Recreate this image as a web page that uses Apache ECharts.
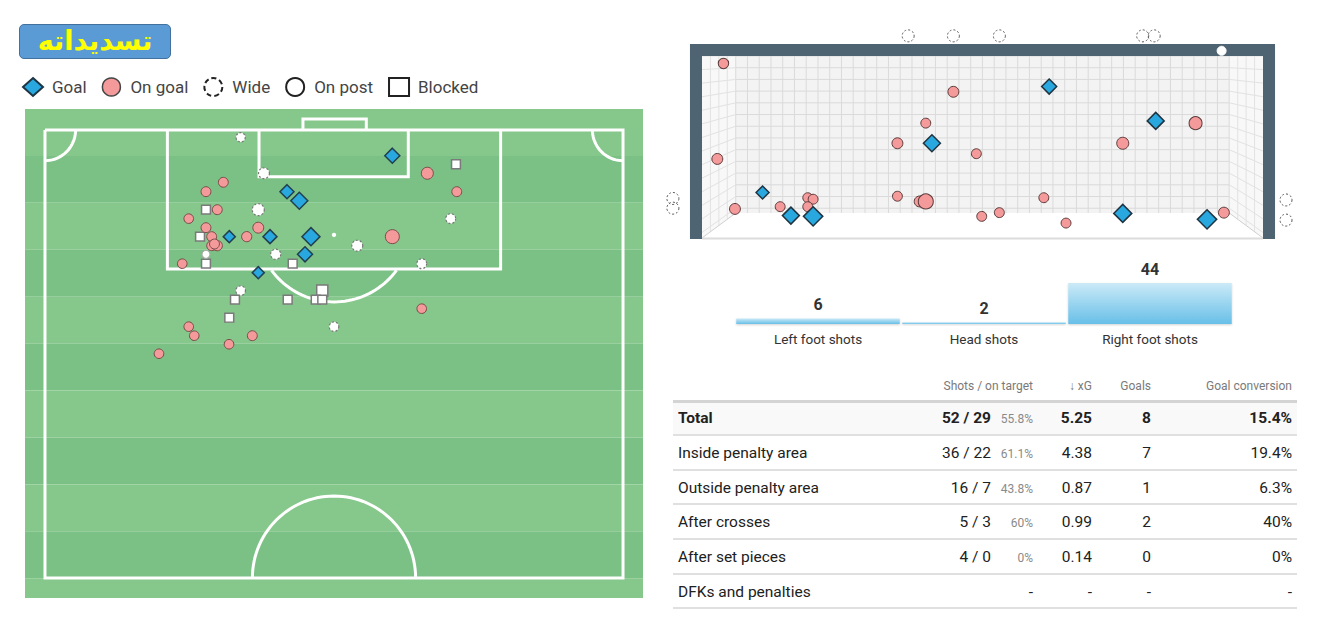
<!DOCTYPE html>
<html>
<head>
<meta charset="utf-8">
<script src="https://cdn.jsdelivr.net/npm/echarts@6.0.0/dist/echarts.min.js"></script>
<style>
html,body{margin:0;padding:0;background:#fff;}
#wrap{position:relative;width:1323px;height:637px;overflow:hidden;font-family:Roboto,"Noto Sans",sans-serif;}
#chart{position:absolute;left:0;top:0;width:1323px;height:637px;}
#title{position:absolute;left:19px;top:24px;width:152px;height:35px;box-sizing:border-box;background:#5b9bd5;border:1px solid #41719c;border-radius:5px;color:#ffff00;font:bold 27px "DejaVu Sans",sans-serif;text-align:center;line-height:31px;direction:rtl;}
.cell{position:absolute;height:20px;line-height:20px;white-space:nowrap;color:#212121;font-size:15.5px;}
.hd{color:#7a7a7a;font-size:12px;}
.pct{color:#8a8a8a;font-size:12px;}
.bold{font-weight:bold;}
.ln{position:absolute;left:673px;width:624px;background:#e2e2e2;}
</style>
</head>
<body>
<div id="wrap">
  <div id="chart"></div>
  <div id="title">تسديداته</div>
  <div id="tbl"></div>
</div>
<script>
// ---------------- DATA ----------------
// Pitch shots: [x (m from left touchline), y (m from goal line), xG]
const pitchGoal = [[40.86,3.01,0.38],[28.47,7.23,0.29],[29.92,8.29,0.59],[21.68,12.50,0.15],[26.47,12.50,0.29],[31.29,12.50,0.72],[30.59,14.57,0.38],[25.09,16.72,0.15]];
const pitchOnGoal = [[44.98,5.07,0.15],[20.98,6.13,0.05],[18.94,7.23,0.05],[48.44,7.23,0.05],[20.27,9.34,0.05],[16.91,10.39,0.04],[18.94,11.45,0.05],[25.09,11.45,0.09],[19.61,12.50,0.05],[23.73,12.50,0.06],[40.86,12.50,0.29],[19.61,13.56,0.05],[20.27,13.56,0.06],[19.94,13.36,0.05],[16.15,15.67,0.04],[44.32,20.94,0.04],[16.91,23.05,0.04],[17.56,24.11,0.04],[24.39,24.11,0.05],[21.65,25.11,0.04],[13.41,26.22,0.04]];
const pitchWide = [[23.02,0.86,0.03],[25.76,5.07,0.09],[25.09,9.34,0.15],[47.73,10.39,0.05],[36.74,13.56,0.09],[27.14,14.57,0.06],[44.32,15.67,0.05],[23.02,18.83,0.04],[34.0,23.05,0.04]];
const pitchPost = [[18.94,14.57,0.005]];
const pitchBlocked = [[48.35,4.02,0.02],[18.94,9.34,0.02],[18.24,12.50,0.02],[18.94,15.67,0.02],[29.14,15.67,0.02],[22.35,19.89,0.02],[28.55,19.89,0.02],[32.62,18.83,0.1],[31.85,19.89,0.02],[32.62,19.89,0.02],[21.68,22.0,0.02]];

// Goal-mouth view: [lateral m from goal centre, height m, xG]
const mouthGoal = [[-0.66,1.27,0.59],[-2.87,0.61,0.21],[-2.50,0.30,0.59],[-2.21,0.29,0.9],[0.87,2.03,0.38],[2.26,1.57,0.59],[1.83,0.33,0.72],[2.93,0.25,0.9]];
const mouthOnGoal = [[-3.38,2.34,0.07],[-0.38,1.96,0.09],[-0.74,1.54,0.05],[-1.11,1.27,0.09],[-0.08,1.13,0.05],[-3.46,1.06,0.09],[-1.11,0.56,0.05],[-0.82,0.49,0.09],[-0.74,0.49,0.38],[-2.28,0.54,0.05],[-2.21,0.52,0.05],[-2.28,0.42,0.05],[-2.64,0.42,0.05],[-3.23,0.39,0.09],[-0.01,0.29,0.05],[2.78,1.54,0.21],[1.83,1.27,0.15],[0.80,0.54,0.05],[0.22,0.34,0.05],[1.09,0.20,0.05],[3.15,0.34,0.09]];
const mouthWide = [[-0.97,2.71],[-0.38,2.71],[0.22,2.71],[2.09,2.71],[2.24,2.71],[-4.04,0.53],[-4.04,0.40],[3.96,0.51],[3.96,0.24]];
const mouthPost = [[3.12,2.51]];

// Body part bars
const bodyCategories = ['Left foot shots','Head shots','Right foot shots'];
const bodyValues = [6, 2, 44];

// Table
const tableHeaders = ['Shots / on target','↓ xG','Goals','Goal conversion'];
const rowLabels = ['Total','Inside penalty area','Outside penalty area','After crosses','After set pieces','DFKs and penalties'];
const rowShots = [52,36,16,5,4,null];
const rowOnTarget = [29,22,7,3,0,null];
const rowOnTargetPct = ['55.8%','61.1%','43.8%','60%','0%',null];
const rowXg = ['5.25','4.38','0.87','0.99','0.14',null];
const rowGoals = [8,7,1,2,0,null];
const rowConversion = ['15.4%','19.4%','6.3%','40%','0%',null];

// ---------------- GEOMETRY / STYLE ----------------
const PV = {xMin:-2.35, xMax:70.35, yMin:-2.46, yMax:54.85};
const GV = {xMin:-3.66, xMax:3.66, yMin:0, yMax:2.44};
const C = {goal:'#29a8e0', goalBorder:'#22404f', onGoal:'#f59a9a', onGoalBorder:'#7a4a4a', frame:'#4f6472'};

function xgSize(v){ return 7 + 13*Math.sqrt(v[2]); }
function arcPts(cx, cy, r, a0, a1, n){
  const pts=[]; for(let i=0;i<=n;i++){const a=(a0+(a1-a0)*i/n)*Math.PI/180; pts.push([cx+r*Math.cos(a), cy+r*Math.sin(a)]);} return pts;
}
const pitchLines = [
  [[0,0],[0,52.5],[68,52.5],[68,0],[0,0]],
  [[14.4,0],[14.4,16.3],[53.6,16.3],[53.6,0]],
  [[25.18,0],[25.18,5.47],[42.74,5.47],[42.74,0]],
  [[30.35,0],[30.35,-1.3],[37.8,-1.3],[37.8,0]],
  arcPts(34,11,9.15,36.5,143.5,40),
  arcPts(34,52.5,9.6,180,360,60),
  arcPts(0,0,3.6,0,90,20),
  arcPts(68,0,3.6,90,180,20)
];

function pitchRender(params, api){
  const c = p => api.coord(p);
  const ch = [];
  const stripe = 5.5;
  for(let i=0;;i++){
    const y0 = PV.yMin + i*stripe; if(y0 >= PV.yMax) break;
    const y1 = Math.min(y0+stripe, PV.yMax);
    const a = c([PV.xMin,y0]), b = c([PV.xMax,y1]);
    ch.push({type:'rect', shape:{x:a[0],y:a[1],width:b[0]-a[0],height:b[1]-a[1]}, style:{fill: i%2 ? '#7bc185' : '#86c78b'}});
  }
  pitchLines.forEach(pts => ch.push({type:'polyline', shape:{points:pts.map(c)}, style:{stroke:'#fff', lineWidth:3, fill:'none', lineJoin:'miter'}}));
  const s = c([34,12.3]);
  ch.push({type:'circle', shape:{cx:s[0],cy:s[1],r:2.2}, style:{fill:'#fff'}});
  return {type:'group', children:ch};
}

function goalRender(params, api){
  const c = p => api.coord(p);
  const ch = [];
  const W = 3.66, BW = 3.22, BZ = 0.335, H = 2.44, PT = 0.157, CT = 0.16;
  const poly = (pts, style) => ch.push({type:'polygon', shape:{points:pts.map(c)}, style});
  const line = (pts, style) => ch.push({type:'polyline', shape:{points:pts.map(c)}, style:Object.assign({fill:'none'}, style)});
  poly([[-W,0],[-W,H],[-BW,H],[-BW,BZ]], {fill:'#f8f8f8'});
  poly([[W,0],[W,H],[BW,H],[BW,BZ]], {fill:'#f8f8f8'});
  poly([[-BW,BZ],[-BW,H],[BW,H],[BW,BZ]], {fill:'#f3f3f3'});
  poly([[-W,0],[W,0],[BW,BZ],[-BW,BZ]], {fill:'#ffffff'});
  const gs = {stroke:'#dadada', lineWidth:1};
  const dx = 0.1533, dz = 0.157;
  for(let x=-BW; x<=BW+0.001; x+=dx) line([[x,BZ],[x,H]], gs);
  for(let z=H; z>=BZ-0.001; z-=dz) line([[-BW,z],[BW,z]], gs);
  const ss = {stroke:'#e2e2e2', lineWidth:1};
  for(let z=H; z>=BZ-0.001; z-=dz){
    const zf = (z-BZ)*H/(H-BZ);
    line([[-BW,z],[-W,zf]], ss); line([[BW,z],[W,zf]], ss);
  }
  for(let k=1;k<4;k++){
    const t=k/4, xl=-W+(W-BW)*t, zb=BZ*t;
    line([[xl,zb],[xl,H]], ss); line([[-xl,zb],[-xl,H]], ss);
  }
  line([[-BW,BZ],[-W,0]], {stroke:'#d0d0d0', lineWidth:1});
  line([[BW,BZ],[W,0]], {stroke:'#d0d0d0', lineWidth:1});
  line([[-W,-0.006],[W,-0.006]], {stroke:'#dcdcdc', lineWidth:2});
  poly([[-W-PT,-0.013],[-W-PT,H+CT],[W+PT,H+CT],[W+PT,-0.013],[W,-0.013],[W,H],[-W,H],[-W,-0.013]], {fill:C.frame});
  return {type:'group', children:ch};
}

const barGrad = new echarts.graphic.LinearGradient(0,0,0,1,[{offset:0,color:'#cbeaf7'},{offset:1,color:'#68bfe8'}]);

const chart = echarts.init(document.getElementById('chart'), null, {renderer:'svg'});
const diamondStyle = {color:C.goal, borderColor:C.goalBorder, borderWidth:1.5};
const onGoalStyle = {color:C.onGoal, borderColor:C.onGoalBorder, borderWidth:1};

chart.setOption({
  animation:false,
  textStyle:{fontFamily:'Roboto'},
  legend:{
    left:17, top:72, itemWidth:20, itemHeight:18, itemGap:15, selectedMode:false,
    textStyle:{fontFamily:'Roboto', fontSize:17, color:'#444', padding:[0,0,0,4]},
    data:[
      {name:'Goal', icon:'diamond', itemStyle:{color:C.goal, borderColor:'#1d3442', borderWidth:2}},
      {name:'On goal', icon:'circle', itemStyle:{color:C.onGoal, borderColor:'#444', borderWidth:1.5}},
      {name:'Wide', icon:'circle', itemStyle:{color:'rgba(0,0,0,0)', borderColor:'#222', borderWidth:2, borderType:[5,3]}},
      {name:'On post', icon:'circle', itemStyle:{color:'#fff', borderColor:'#222', borderWidth:2}},
      {name:'Blocked', icon:'rect', itemStyle:{color:'#fff', borderColor:'#222', borderWidth:2}}
    ]
  },
  grid:[
    {left:25, top:109, width:618, height:489},
    {left:702, top:56, width:561, height:182},
    {left:735, top:283, width:498, height:41}
  ],
  xAxis:[
    {gridIndex:0, type:'value', min:PV.xMin, max:PV.xMax, show:false},
    {gridIndex:1, type:'value', min:GV.xMin, max:GV.xMax, show:false},
    {gridIndex:2, type:'category', data:bodyCategories, axisLine:{show:false}, axisTick:{show:false},
     axisLabel:{fontSize:13.5, color:'#333', margin:8, fontFamily:'Roboto'}}
  ],
  yAxis:[
    {gridIndex:0, type:'value', min:PV.yMin, max:PV.yMax, inverse:true, show:false},
    {gridIndex:1, type:'value', min:GV.yMin, max:GV.yMax, show:false},
    {gridIndex:2, type:'value', min:0, max:44, show:false}
  ],
  series:[
    {type:'custom', xAxisIndex:0, yAxisIndex:0, data:[[34,20]], renderItem:pitchRender, silent:true, z:1, clip:false},
    {type:'custom', xAxisIndex:1, yAxisIndex:1, data:[[0,1]], renderItem:goalRender, silent:true, z:1, clip:false},
    {name:'Blocked', type:'scatter', xAxisIndex:0, yAxisIndex:0, data:pitchBlocked, symbol:'rect', symbolSize:xgSize,
     itemStyle:{color:'#fff', borderColor:'#7a7a7a', borderWidth:1.5, opacity:1}, z:3, clip:false},
    {name:'Wide', type:'scatter', xAxisIndex:0, yAxisIndex:0, data:pitchWide, symbol:'circle', symbolSize:xgSize,
     itemStyle:{color:'#fff', borderColor:'#777', borderWidth:1.2, borderType:[2,2], opacity:1}, z:3, clip:false},
    {name:'On post', type:'scatter', xAxisIndex:0, yAxisIndex:0, data:pitchPost, symbol:'circle', symbolSize:xgSize,
     itemStyle:{color:'#fff', borderColor:'#aaa', borderWidth:1, opacity:1}, z:3, clip:false},
    {name:'On goal', type:'scatter', xAxisIndex:0, yAxisIndex:0, data:pitchOnGoal, symbol:'circle', symbolSize:xgSize,
     itemStyle:Object.assign({opacity:1}, onGoalStyle), z:4, clip:false},
    {name:'Goal', type:'scatter', xAxisIndex:0, yAxisIndex:0, data:pitchGoal, symbol:'diamond', symbolSize:xgSize,
     itemStyle:Object.assign({opacity:1}, diamondStyle), z:5, clip:false},
    {name:'Wide', type:'scatter', xAxisIndex:1, yAxisIndex:1, data:mouthWide, symbol:'circle', symbolSize:12,
     itemStyle:{color:'rgba(255,255,255,0)', borderColor:'#555', borderWidth:1, borderType:[2,2], opacity:1}, z:3, clip:false},
    {name:'On post', type:'scatter', xAxisIndex:1, yAxisIndex:1, data:mouthPost, symbol:'circle', symbolSize:9,
     itemStyle:{color:'#fff', borderColor:'#fff', borderWidth:1, opacity:1}, z:3, clip:false},
    {name:'On goal', type:'scatter', xAxisIndex:1, yAxisIndex:1, data:mouthOnGoal, symbol:'circle', symbolSize:xgSize,
     itemStyle:{color:C.onGoal, borderColor:'#5a3a3a', borderWidth:1, opacity:1}, z:4, clip:false},
    {name:'Goal', type:'scatter', xAxisIndex:1, yAxisIndex:1, data:mouthGoal, symbol:'diamond', symbolSize:xgSize,
     itemStyle:{color:C.goal, borderColor:'#1f3440', borderWidth:1.5, opacity:1}, z:5, clip:false},
    {type:'bar', xAxisIndex:2, yAxisIndex:2, data:bodyValues, barCategoryGap:'1.5%',
     itemStyle:{color:barGrad, shadowColor:'rgba(0,0,0,0.18)', shadowBlur:2, shadowOffsetY:1},
     label:{show:true, position:'top', distance:6, fontSize:16, fontWeight:'bold', color:'#333', fontFamily:'Roboto'}, silent:true}
  ]
});

// ---------------- TABLE ----------------
const tbl = document.getElementById('tbl');
const T = {headerCy:386, headerLine:401, firstCy:418.3, step:34.65, labelX:678, shotsEnd:991, pctEnd:1033, xgEnd:1092, goalsEnd:1151, convEnd:1292};
function cell(text, x, cy, align, cls){
  const d = document.createElement('div');
  d.className = 'cell ' + (cls||'');
  d.textContent = text;
  d.style.top = (cy-10) + 'px';
  if(align === 'right') d.style.right = (1323 - x) + 'px'; else d.style.left = x + 'px';
  tbl.appendChild(d);
}
function hline(y, h, color){
  const d = document.createElement('div'); d.className='ln';
  d.style.top = y+'px'; d.style.height = h+'px'; if(color) d.style.background = color; tbl.appendChild(d);
}
(function(){const d=document.createElement('div'); d.style.cssText='position:absolute;left:673px;width:624px;top:402px;height:33px;background:#f9f9f9;'; tbl.appendChild(d);})();
cell(tableHeaders[0], T.pctEnd, T.headerCy, 'right', 'hd');
cell(tableHeaders[1], T.xgEnd, T.headerCy, 'right', 'hd');
cell(tableHeaders[2], T.goalsEnd, T.headerCy, 'right', 'hd');
cell(tableHeaders[3], T.convEnd, T.headerCy, 'right', 'hd');
hline(T.headerLine-1, 2.5, '#d4d4d4');
rowLabels.forEach((lab, i) => {
  const cy = T.firstCy + i*T.step;
  const b = i === 0 ? 'bold' : '';
  cell(lab, T.labelX, cy, 'left', b);
  if(rowShots[i] == null){
    cell('-', T.pctEnd, cy, 'right', '');
    cell('-', T.xgEnd, cy, 'right', '');
    cell('-', T.goalsEnd, cy, 'right', '');
    cell('-', T.convEnd, cy, 'right', '');
  } else {
    cell(rowShots[i] + ' / ' + rowOnTarget[i], T.shotsEnd, cy, 'right', b);
    cell(rowOnTargetPct[i], T.pctEnd, cy+1, 'right', 'pct');
    cell(rowXg[i], T.xgEnd, cy, 'right', b);
    cell(String(rowGoals[i]), T.goalsEnd, cy, 'right', b);
    cell(rowConversion[i], T.convEnd, cy, 'right', b);
  }
  hline(T.headerLine + 33 + i*T.step, 2, '#e0e0e0');
});
</script>
</body>
</html>
